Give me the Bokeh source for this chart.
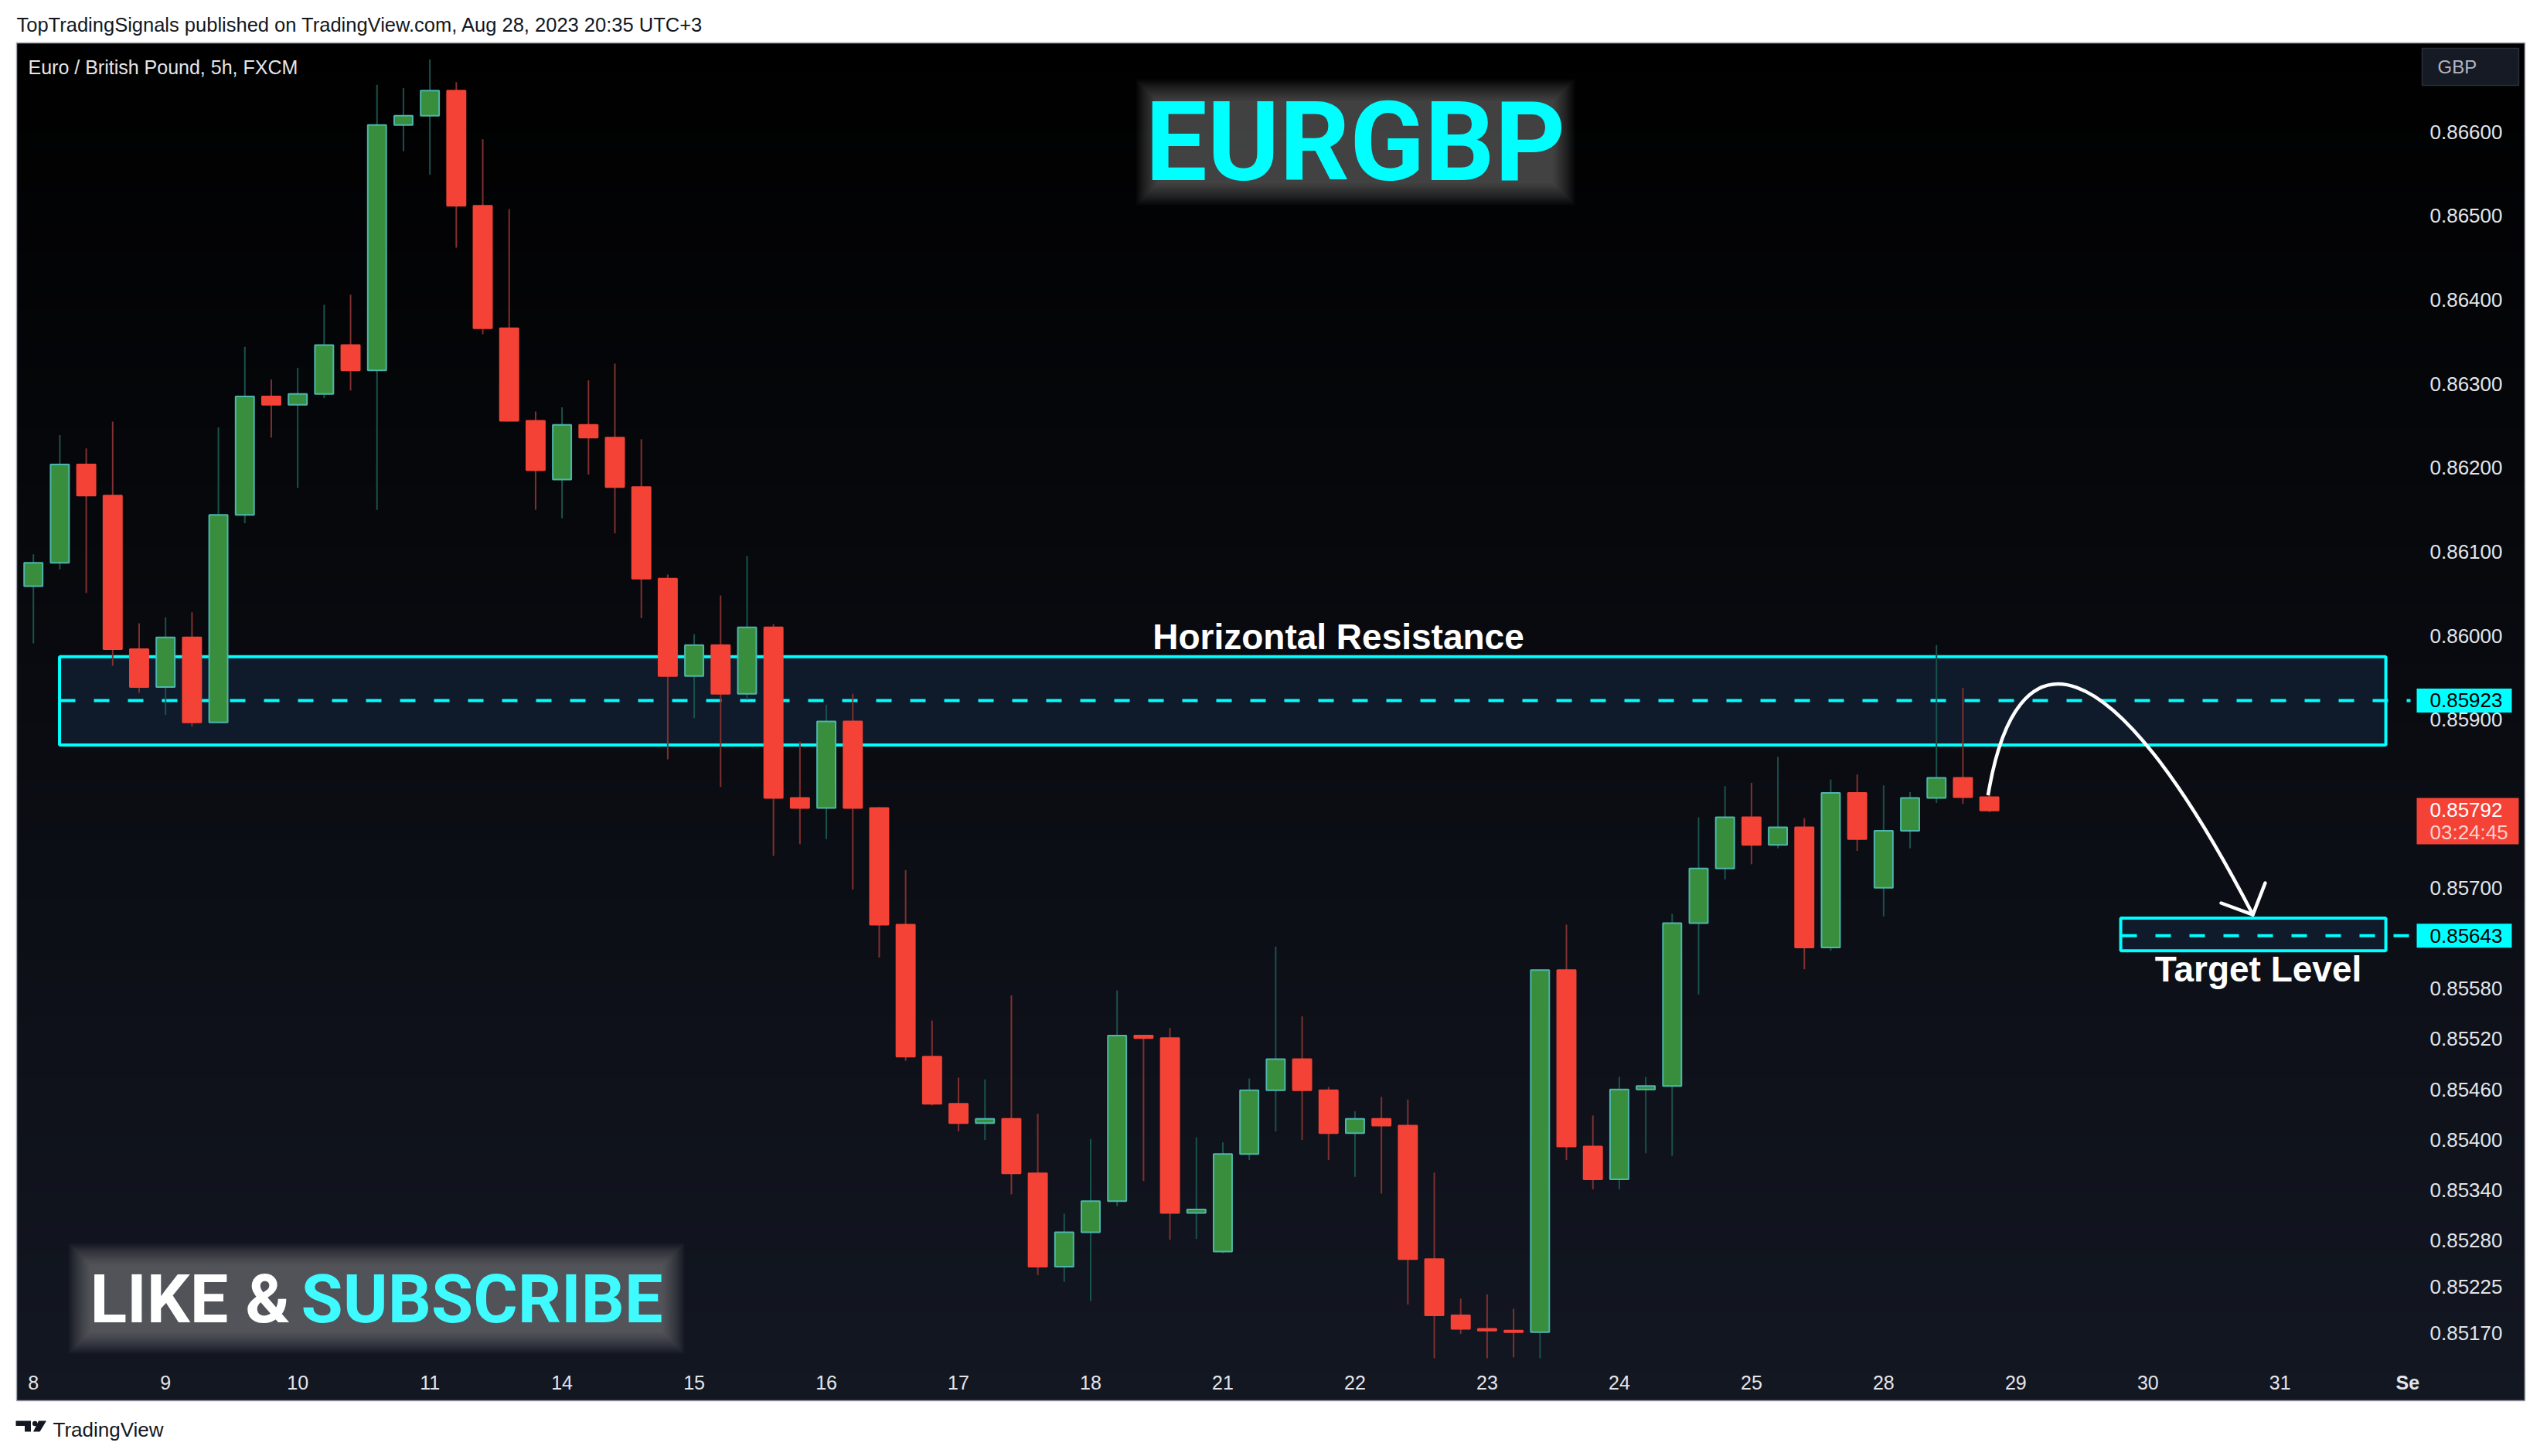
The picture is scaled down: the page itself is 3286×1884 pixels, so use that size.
import numpy as np
from bokeh.plotting import figure
from bokeh.models import Range1d, ColumnDataSource
from bokeh.core.properties import value
from bokeh.embed import file_html
from bokeh.resources import INLINE

# ---------------- data (EURGBP, 5h bars, FXCM) ----------------
opens = [0.86059, 0.86087, 0.86204, 0.86167, 0.85984, 0.85939, 0.85998, 0.85897, 0.86144, 0.86285,
         0.86275, 0.86288, 0.86346, 0.86316, 0.86608, 0.86619, 0.86649, 0.86512, 0.86366, 0.86256,
         0.86186, 0.86251, 0.86236, 0.86177, 0.86068, 0.85952, 0.85989, 0.85931, 0.86010, 0.85807,
         0.85795, 0.85898, 0.85795, 0.85656, 0.85499, 0.85443, 0.85420, 0.85425, 0.85360, 0.85249,
         0.85290, 0.85327, 0.85524, 0.85521, 0.85313, 0.85267, 0.85383, 0.85459, 0.85496, 0.85459,
         0.85408, 0.85425, 0.85417, 0.85258, 0.85191, 0.85175, 0.85173, 0.85171, 0.85602, 0.85392,
         0.85353, 0.85460, 0.85464, 0.85658, 0.85723, 0.85784, 0.85751, 0.85772, 0.85629, 0.85813,
         0.85700, 0.85768, 0.85807, 0.85831, 0.85808]
highs = [0.86097, 0.86239, 0.86223, 0.86255, 0.86015, 0.86022, 0.86028, 0.86248, 0.86344, 0.86305,
         0.86319, 0.86394, 0.86406, 0.86656, 0.86652, 0.86686, 0.86659, 0.86591, 0.86508, 0.86267,
         0.86272, 0.86304, 0.86324, 0.86234, 0.86073, 0.86002, 0.86048, 0.86095, 0.86014, 0.85874,
         0.85918, 0.85931, 0.85796, 0.85721, 0.85542, 0.85474, 0.85472, 0.85572, 0.85431, 0.85312,
         0.85401, 0.85578, 0.85525, 0.85533, 0.85403, 0.85397, 0.85473, 0.85630, 0.85547, 0.85463,
         0.85434, 0.85451, 0.85448, 0.85361, 0.85211, 0.85216, 0.85199, 0.85603, 0.85656, 0.85429,
         0.85475, 0.85475, 0.85669, 0.85784, 0.85821, 0.85825, 0.85856, 0.85783, 0.85829, 0.85835,
         0.85822, 0.85814, 0.85989, 0.85938, 0.85810]
lows = [0.85991, 0.86079, 0.86051, 0.85964, 0.85932, 0.85906, 0.85892, 0.85896, 0.86134, 0.86236,
        0.86176, 0.86283, 0.86292, 0.86150, 0.86577, 0.86549, 0.86462, 0.86359, 0.86255, 0.86150,
        0.86140, 0.86192, 0.86122, 0.86021, 0.85853, 0.85902, 0.85820, 0.85924, 0.85738, 0.85752,
        0.85758, 0.85698, 0.85617, 0.85494, 0.85441, 0.85410, 0.85400, 0.85335, 0.85239, 0.85231,
        0.85208, 0.85321, 0.85351, 0.85281, 0.85282, 0.85265, 0.85376, 0.85410, 0.85400, 0.85376,
        0.85356, 0.85336, 0.85204, 0.85140, 0.85169, 0.85140, 0.85141, 0.85140, 0.85376, 0.85341,
        0.85341, 0.85384, 0.85381, 0.85573, 0.85710, 0.85728, 0.85747, 0.85603, 0.85625, 0.85744,
        0.85666, 0.85747, 0.85801, 0.85800, 0.85790]
closes = [0.86087, 0.86204, 0.86167, 0.85984, 0.85939, 0.85998, 0.85897, 0.86144, 0.86285, 0.86275,
          0.86288, 0.86346, 0.86316, 0.86608, 0.86619, 0.86649, 0.86512, 0.86366, 0.86256, 0.86197,
          0.86251, 0.86236, 0.86177, 0.86068, 0.85952, 0.85989, 0.85931, 0.86010, 0.85807, 0.85795,
          0.85898, 0.85795, 0.85656, 0.85499, 0.85443, 0.85420, 0.85425, 0.85360, 0.85249, 0.85290,
          0.85327, 0.85524, 0.85521, 0.85313, 0.85317, 0.85383, 0.85459, 0.85496, 0.85459, 0.85408,
          0.85425, 0.85417, 0.85258, 0.85191, 0.85175, 0.85173, 0.85171, 0.85602, 0.85392, 0.85353,
          0.85460, 0.85464, 0.85658, 0.85723, 0.85784, 0.85751, 0.85772, 0.85629, 0.85813, 0.85758,
          0.85768, 0.85807, 0.85831, 0.85808, 0.85792]

day_labels = ["8", "9", "10", "11", "14", "15", "16", "17", "18", "21", "22", "23", "24", "25",
              "28", "29", "30", "31"]
day_bars = [0, 5, 10, 15, 20, 25, 30, 35, 40, 45, 50, 55, 60, 65, 70, 75, 80, 85]
month_label = "Se"

price_ticks = [0.86600, 0.86500, 0.86400, 0.86300, 0.86200, 0.86100, 0.86000, 0.85900, 0.85700,
               0.85580, 0.85520, 0.85460, 0.85400, 0.85340, 0.85280, 0.85225, 0.85170]
price_tick_labels = ["0.86600", "0.86500", "0.86400", "0.86300", "0.86200", "0.86100", "0.86000",
                     "0.85900", "0.85700", "0.85580", "0.85520", "0.85460", "0.85400", "0.85340",
                     "0.85280", "0.85225", "0.85170"]

resistance_level = 0.85923
resistance_zone = [0.85870, 0.85975]
resistance_bars = [0.99, 89.0]
target_level = 0.85643
target_zone = [0.85625, 0.85664]
target_bars = [78.97, 89.0]
last_price = 0.85792
countdown = "03:24:45"

# projected path (bar, price): start, two control points, end
path_bars = [73.95, 75.0, 78.5, 83.97]
path_prices = [0.85810, 0.86010, 0.86000, 0.85668]

# ---------------- page geometry helpers (page pixel -> data) ----------------
FIG_W, FIG_H = 3270, 1868


def X(px):
    return (px - 42.7) / 34.195


def Y(py):
    return 0.867012 - (py - 60.0) * 9.1997e-6


p = figure(width=FIG_W, height=FIG_H, x_range=Range1d(X(0), X(FIG_W)),
           y_range=Range1d(Y(FIG_H), Y(0)), x_axis_type=None, y_axis_type=None,
           toolbar_location=None, output_backend="svg", min_border=0,
           background_fill_color="#ffffff", border_fill_color="#ffffff")
p.outline_line_color = None

# ---------------- dark panel with vertical gradient ----------------
N = 700
u = (np.arange(N) + 0.5) / N
top_rgb = np.array([0.0, 0.0, 0.0])
bot_rgb = np.array([19.0, 23.0, 34.0])
rgb = (1 - u)[:, None] * bot_rgb + u[:, None] * top_rgb
img = np.empty((N, 2), dtype=np.uint32)
view = img.view(dtype=np.uint8).reshape((N, 2, 4))
for ch in range(3):
    view[:, :, ch] = np.round(rgb[:, ch])[:, None].astype(np.uint8)
view[:, :, 3] = 255
p.image_rgba(image=[img], x=X(21), y=Y(1812), dw=X(3266) - X(21), dh=Y(55) - Y(1812))
p.quad(left=[X(21)], right=[X(3266)], top=[Y(55)], bottom=[Y(1812)], fill_color=None,
       line_color="#a3a6af", line_width=1.5)

SANS = value("Liberation Sans")
DISPLAY = value("Roboto")


def glow(x0, x1, y0, y1, layers=15, step=2.0, color="#a0a0a0", alpha=0.043):
    L, R, T, B = [], [], [], []
    for k in range(layers):
        e = k * step - 4
        L.append(X(x0 - e)); R.append(X(x1 + e)); T.append(Y(y0 - e)); B.append(Y(y1 + e))
    p.quad(left=L, right=R, top=T, bottom=B, fill_color=color, fill_alpha=alpha, line_color=None)


# ---------------- zones ----------------
p.quad(left=[resistance_bars[0]], right=[resistance_bars[1]], bottom=[resistance_zone[0]],
       top=[resistance_zone[1]], fill_color="#0f1a2a", line_color="#00ffff", line_width=4)
p.quad(left=[target_bars[0]], right=[target_bars[1]], bottom=[target_zone[0]],
       top=[target_zone[1]], fill_color="#0f1a2a", line_color="#00ffff", line_width=4)
p.segment(x0=[X(77), X(2744)], y0=[resistance_level, target_level], x1=[X(3118), X(3118)],
          y1=[resistance_level, target_level], line_color="#00ffff", line_width=4,
          line_dash="20 24")

# ---------------- candles ----------------
idx = list(range(len(opens)))
up = [i for i in idx if closes[i] >= opens[i]]
dn = [i for i in idx if closes[i] < opens[i]]


def src(ids):
    return ColumnDataSource(dict(
        x=ids, h=[highs[i] for i in ids], l=[lows[i] for i in ids],
        top=[max(opens[i], closes[i]) for i in ids],
        bot=[min(opens[i], closes[i]) for i in ids]))


up_src, dn_src = src(up), src(dn)
p.segment(x0="x", y0="l", x1="x", y1="h", source=up_src, line_color="#1a524c", line_width=2)
p.segment(x0="x", y0="l", x1="x", y1="h", source=dn_src, line_color="#80302f", line_width=2)
p.vbar(x="x", width=0.70, top="top", bottom="bot", source=up_src, fill_color="#388e3c",
       line_color="#4db6ac", line_width=2)
p.vbar(x="x", width=0.70, top="top", bottom="bot", source=dn_src, fill_color="#f44336",
       line_color="#f44336", line_width=2)

# ---------------- projection arrow ----------------
p.bezier(x0=[path_bars[0]], y0=[path_prices[0]], cx0=[path_bars[1]], cy0=[path_prices[1]],
         cx1=[path_bars[2]], cy1=[path_prices[2]], x1=[path_bars[3]], y1=[path_prices[3]],
         line_color="#ffffff", line_width=4.5)
p.segment(x0=[path_bars[3], path_bars[3]], y0=[path_prices[3], path_prices[3]],
          x1=[X(2873), X(2930)], y1=[Y(1168), Y(1142)], line_color="#ffffff", line_width=4.5,
          line_cap="round")

# ---------------- labels on chart ----------------
p.text(x=[X(1731)], y=[Y(823)], text=["Horizontal Resistance"], text_font=SANS,
       text_font_style="bold", text_font_size="46px", text_color="#ffffff",
       text_align="center", text_baseline="middle")
p.text(x=[X(2921)], y=[Y(1253)], text=["Target Level"], text_font=SANS,
       text_font_style="bold", text_font_size="46px", text_color="#ffffff",
       text_align="center", text_baseline="middle")

glow(1493, 2013, 126, 241, alpha=0.034)
p.text(x=[X(1753)], y=[Y(184)], text=["EURGBP"], text_font=DISPLAY, text_font_style="bold",
       text_font_size="142px", text_color="#00ffff", text_align="center",
       text_baseline="middle")

glow(112, 861, 1632, 1727)
p.text(x=[X(116)], y=[Y(1680)], text=["LIKE &"], text_font=DISPLAY, text_font_style="bold",
       text_font_size="88px", text_color="#ffffff", text_align="left",
       text_baseline="middle")
p.text(x=[X(857)], y=[Y(1680)], text=["SUBSCRIBE"], text_font=DISPLAY, text_font_style="bold",
       text_font_size="88px", text_color="#3ffbff", text_align="right",
       text_baseline="middle")

p.text(x=[X(36)], y=[Y(86)], text=["Euro / British Pound, 5h, FXCM"], text_font=SANS,
       text_font_size="25px", text_color="#e3e5ea", text_align="left", text_baseline="middle")

# ---------------- price scale ----------------
p.text(x=[X(3143)] * len(price_ticks), y=price_ticks, text=price_tick_labels, text_font=SANS,
       text_font_size="26px", text_color="#e3e5ea", text_align="left", text_baseline="middle")

p.quad(left=[X(3133)], right=[X(3258)], top=[Y(62)], bottom=[Y(110)], fill_color="#161a25",
       line_color="#2a2e39", line_width=1.5)
p.text(x=[X(3153)], y=[Y(86)], text=["GBP"], text_font=SANS, text_font_size="24px",
       text_color="#b2b5be", text_align="left", text_baseline="middle")

tag_h = 31 * 9.1997e-6
p.quad(left=[X(3126), X(3126)], right=[X(3249), X(3249)],
       top=[resistance_level + tag_h / 2, target_level + tag_h / 2],
       bottom=[resistance_level - tag_h / 2, target_level - tag_h / 2],
       fill_color="#00ffff", line_color=None)
p.text(x=[X(3143), X(3143)], y=[resistance_level, target_level],
       text=[f"{resistance_level:.5f}", f"{target_level:.5f}"], text_font=SANS,
       text_font_size="26px", text_color="#000000", text_align="left", text_baseline="middle")

p.quad(left=[X(3126)], right=[X(3258)], top=[Y(1032)], bottom=[Y(1092)], fill_color="#f44336",
       line_color=None)
p.text(x=[X(3143)], y=[Y(1047)], text=[f"{last_price:.5f}"], text_font=SANS,
       text_font_size="26px", text_color="#ffffff", text_align="left", text_baseline="middle")
p.text(x=[X(3143)], y=[Y(1076)], text=[countdown], text_font=SANS, text_font_size="26px",
       text_color="#fcd0cc", text_align="left", text_baseline="middle")

# ---------------- time scale ----------------
p.text(x=day_bars, y=[Y(1788)] * len(day_bars), text=day_labels, text_font=SANS,
       text_font_size="25px", text_color="#e3e5ea", text_align="center", text_baseline="middle")
p.text(x=[X(3099)], y=[Y(1788)], text=[month_label], text_font=SANS, text_font_style="bold",
       text_font_size="25px", text_color="#e3e5ea", text_align="left", text_baseline="middle")

# ---------------- page header / footer ----------------
p.text(x=[X(21)], y=[Y(31)],
       text=["TopTradingSignals published on TradingView.com, Aug 28, 2023 20:35 UTC+3"],
       text_font=SANS, text_font_size="25.5px", text_color="#131722", text_align="left",
       text_baseline="middle")
p.patches(xs=[[X(20), X(39.5), X(39.5), X(31.5), X(31.5), X(20)],
              [X(49.5), X(59.5), X(51), X(42.5)]],
          ys=[[Y(1838), Y(1838), Y(1852), Y(1852), Y(1844.5), Y(1844.5)],
              [Y(1838), Y(1838), Y(1852), Y(1852)]],
          fill_color="#131722", line_color=None)
p.scatter(x=[X(44.7)], y=[Y(1841.5)], size=6.5, marker="circle", fill_color="#131722",
          line_color=None)
p.text(x=[X(68)], y=[Y(1849)], text=["TradingView"], text_font=SANS, text_font_size="26px",
       text_color="#131722", text_align="left", text_baseline="middle")

open("out.html", "w").write(file_html(p, INLINE))
